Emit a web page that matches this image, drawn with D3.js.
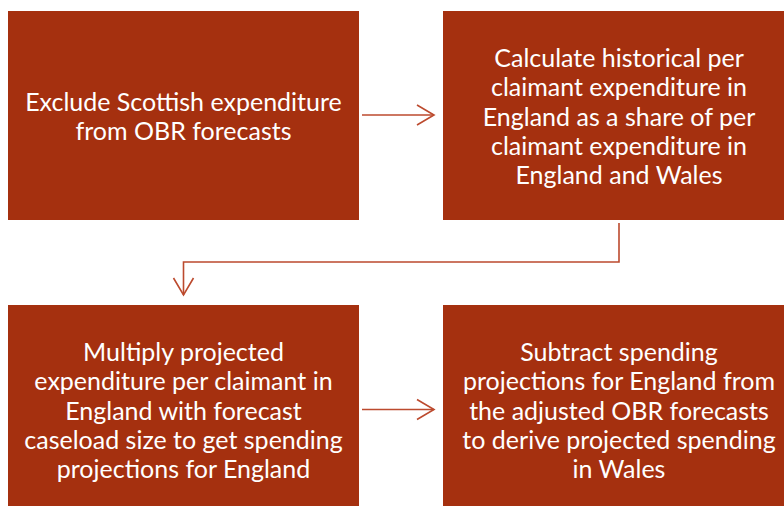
<!DOCTYPE html>
<html>
<head>
<meta charset="utf-8">
<script src="https://cdn.jsdelivr.net/npm/d3@7"></script>
<style>
  html, body { margin: 0; padding: 0; background: #fff; overflow: hidden; }
</style>
</head>
<body>
<div id="chart"></div>
<script>
const steps = [
  ["Exclude Scottish expenditure", "from OBR forecasts"],
  ["Calculate historical per", "claimant expenditure in", "England as a share of per", "claimant expenditure in", "England and Wales"],
  ["Multiply projected", "expenditure per claimant in", "England with forecast", "caseload size to get spending", "projections for England"],
  ["Subtract spending", "projections for England from", "the adjusted OBR forecasts", "to derive projected spending", "in Wales"]
];
const columns = [0, 1, 0, 1];
const rows = [0, 0, 1, 1];
// step i -> step j
const links = [[0, 1], [1, 2], [2, 3]];

const width = 784, height = 506;
const boxFill = "#A5300F";
const lineColor = "#BC4A2E";

const svg = d3.select("#chart").append("svg")
  .attr("width", width)
  .attr("height", height);

// boxes are ~352 wide, 209 tall, second column runs off the right edge
const boxW = 352, boxH = 209;
const colX = c => c === 0 ? 8 : 443;
const rowY = r => r === 0 ? 11 : 305;

const box = svg.selectAll("g.step")
  .data(steps)
  .join("g")
  .attr("class", "step")
  .attr("transform", (d, i) => `translate(${colX(columns[i])},${rowY(rows[i])})`);

box.append("rect")
  .attr("width", (d, i) => columns[i] === 0 ? 351 : boxW)
  .attr("height", boxH)
  .attr("fill", boxFill);

const lineH = 29.2;
box.append("text")
  .attr("fill", "#fff")
  .attr("font-family", "Lato, 'Open Sans', sans-serif")
  .attr("font-size", 25)
  .attr("text-anchor", "middle")
  .each(function(d, i) {
    const cx = columns[i] === 0 ? 175.5 : 176;
    const top = boxH / 2 - (d.length - 1) * lineH / 2;
    d3.select(this).selectAll("tspan")
      .data(d)
      .join("tspan")
      .attr("x", cx)
      .attr("y", (t, k) => top + k * lineH)
      .attr("dominant-baseline", "central")
      .text(t => t);
  });

const arrows = svg.append("g")
  .attr("fill", "none")
  .attr("stroke", lineColor)
  .attr("stroke-width", 1.6);

function head(g, tx, ty, dir) {
  const p = dir === "right"
    ? [[tx - 17, ty - 10], [tx, ty], [tx - 17, ty + 10]]
    : [[tx - 10, ty - 17], [tx, ty], [tx + 10, ty - 17]];
  g.append("path").attr("d", d3.line()(p));
}

links.forEach(([a, b]) => {
  if (rows[a] === rows[b]) {
    const yy = rowY(rows[a]) + boxH / 2 + (rows[a] === 0 ? -0.5 : 0);
    const x1 = 362, x2 = 434;
    arrows.append("path").attr("d", d3.line()([[x1, yy], [x2, yy]]));
    head(arrows, x2, yy, "right");
  } else {
    const sx = colX(columns[a]) + 176;
    const tx = colX(columns[b]) + 175.5;
    const midY = 262;
    arrows.append("path").attr("d", d3.line()([[sx, 223], [sx, midY], [tx, midY], [tx, 295]]));
    head(arrows, tx, 295, "down");
  }
});
</script>
</body>
</html>
